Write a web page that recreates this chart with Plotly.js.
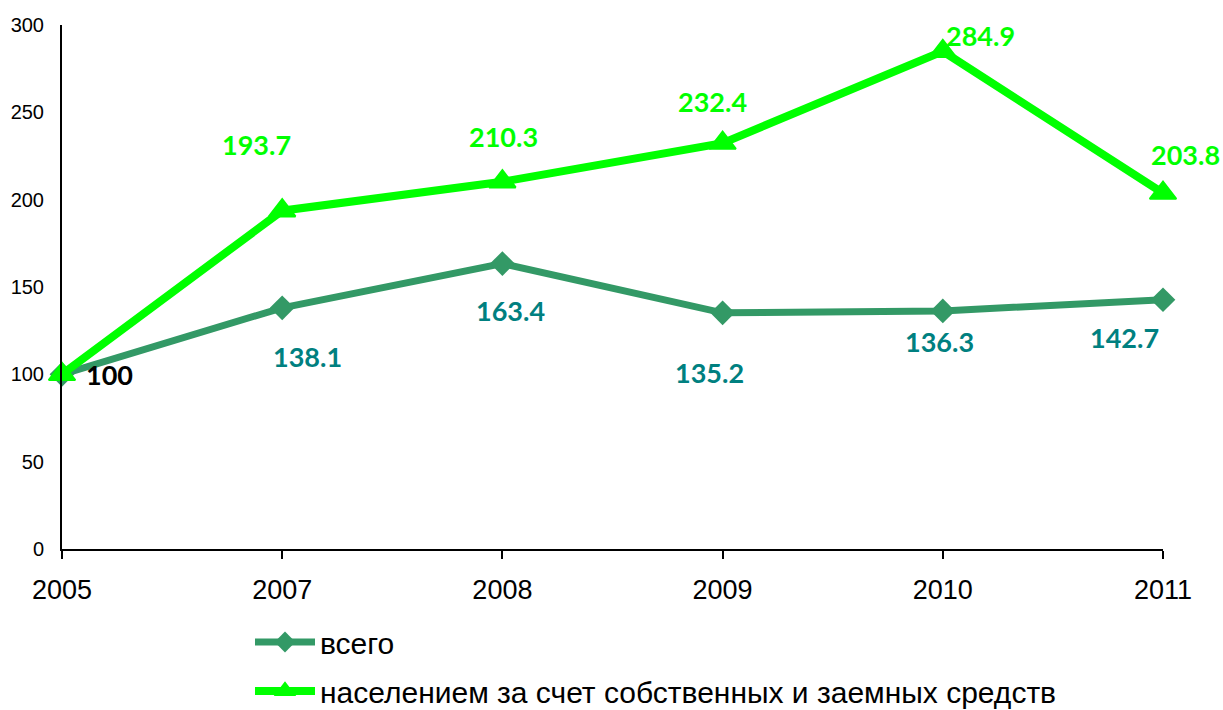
<!DOCTYPE html>
<html>
<head>
<meta charset="utf-8">
<script src="https://cdn.plot.ly/plotly-3.0.1.min.js"></script>
<style>html,body{margin:0;padding:0;background:#fff;}#chart{width:1223px;height:710px;}</style>
</head>
<body>
<div id="chart"></div>
<script>
// ---- data ----
const years = ["2005", "2007", "2008", "2009", "2010", "2011"];
const totalValues = [100, 138.1, 163.4, 135.2, 136.3, 142.7];
const populationValues = [100, 193.7, 210.3, 232.4, 284.9, 203.8];
const totalName = "всего";
const populationName = "населением за счет собственных и заемных средств";
const yTicks = [0, 50, 100, 150, 200, 250, 300];

// ---- label placement (pixel shifts relative to each point) ----
const totalShift = [null, [25, -49], [8, -47], [-13, -60], [-3, -31], [-39, -38]];
const popShift = [[47, 0], [-26, 66], [1, 45], [-10, 42], [38, 16], [22, 39]];

const fmt = v => (Number.isInteger(v) ? String(v) : v.toFixed(1));

const annotations = [];
years.forEach((yr, i) => {
  if (totalShift[i]) {
    annotations.push({
      x: i, y: totalValues[i], xref: 'x', yref: 'y', text: '<b>' + fmt(totalValues[i]) + '</b>',
      showarrow: false, xshift: totalShift[i][0], yshift: totalShift[i][1],
      font: {family: 'Lato, sans-serif', size: 27, color: '#008080'}
    });
  }
  annotations.push({
    x: i, y: populationValues[i], xref: 'x', yref: 'y', text: '<b>' + fmt(populationValues[i]) + '</b>',
    showarrow: false, xshift: popShift[i][0], yshift: popShift[i][1],
    font: {family: 'Lato, sans-serif', size: 27, color: i === 0 ? '#000000' : '#00FF00'}
  });
});

const traces = [
  {
    x: years, y: totalValues, name: totalName, type: 'scatter', mode: 'lines+markers',
    line: {color: '#339966', width: 7},
    marker: {symbol: 'diamond', size: 19, color: '#339966'},
    cliponaxis: false, legendgroup: 'a'
  },
  {
    x: years, y: populationValues, name: populationName, type: 'scatter', mode: 'lines+markers',
    line: {color: '#00FF00', width: 8},
    marker: {symbol: 'triangle-up', size: 23, color: '#00FF00', line: {color: '#00FF00', width: 2}},
    cliponaxis: false, legendgroup: 'b'
  }
];

const layout = {
  width: 1223, height: 710,
  margin: {l: 62, r: 60, t: 25, b: 161, autoexpand: false},
  paper_bgcolor: '#ffffff', plot_bgcolor: '#ffffff',
  font: {family: '"Liberation Sans", Arial, sans-serif', color: '#000'},
  showlegend: true,
  legend: {
    x: (250 - 62) / 1101, y: -67 / 524,
    xanchor: 'left', yanchor: 'top', bgcolor: 'rgba(0,0,0,0)',
    font: {size: 30, color: '#000'}, tracegroupgap: 7, itemwidth: 60
  },
  xaxis: {
    type: 'category', range: [0, 5], showline: true, linecolor: '#000', linewidth: 2,
    ticks: 'outside', ticklen: 8, tickwidth: 2, tickcolor: '#000', tickangle: 0,
    showgrid: false, zeroline: false, fixedrange: true, ticklabelstandoff: 8,
    tickfont: {size: 27, color: '#000'}
  },
  yaxis: {
    range: [0, 300], tickvals: yTicks, ticktext: yTicks.map(String),
    showline: true, linecolor: '#000', linewidth: 2, ticks: '',
    showgrid: false, zeroline: false, fixedrange: true, ticklabelstandoff: 12,
    tickfont: {size: 20, color: '#000'}
  },
  annotations: annotations
};

Plotly.newPlot('chart', traces, layout, {displayModeBar: false, staticPlot: true});
</script>
</body>
</html>
